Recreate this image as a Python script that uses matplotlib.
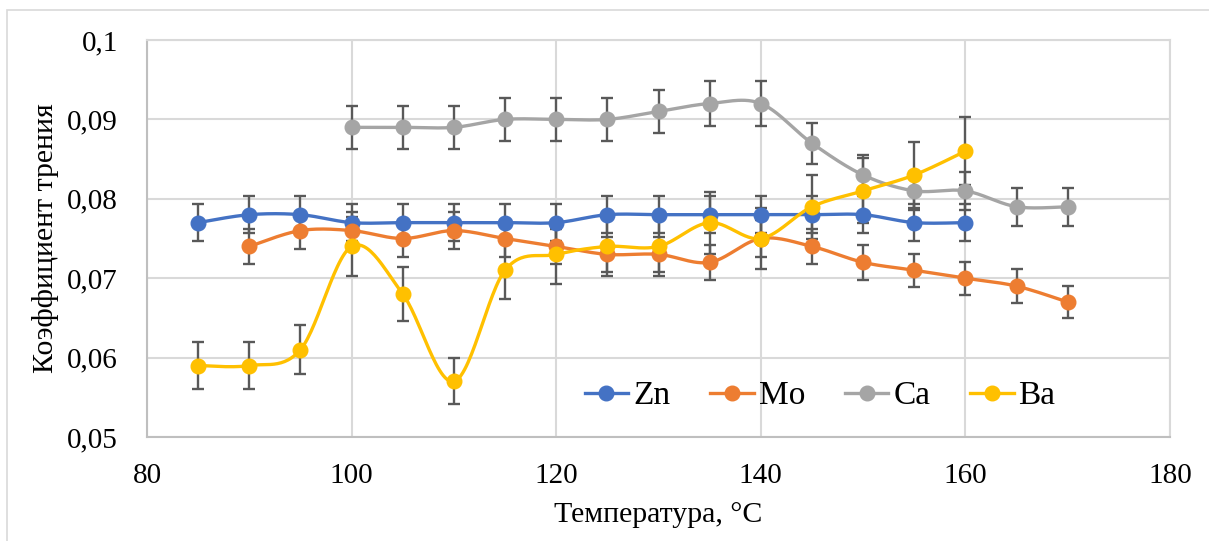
import numpy as np
import matplotlib.pyplot as plt
from matplotlib.patches import Rectangle
from matplotlib.lines import Line2D

# Данные
x_zn = [85, 90, 95, 100, 105, 110, 115, 120, 125, 130, 135, 140, 145, 150, 155, 160]
zn = [0.077, 0.078, 0.078, 0.077, 0.077, 0.077, 0.077, 0.077,
      0.078, 0.078, 0.078, 0.078, 0.078, 0.078, 0.077, 0.077]
zn_err = [0.0023] * 16

x_mo = [90, 95, 100, 105, 110, 115, 120, 125, 130, 135, 140, 145, 150, 155, 160, 165, 170]
mo = [0.074, 0.076, 0.076, 0.075, 0.076, 0.075, 0.074, 0.073, 0.073,
      0.072, 0.075, 0.074, 0.072, 0.071, 0.070, 0.069, 0.067]
mo_err = [0.0022, 0.0023, 0.0023, 0.0023, 0.0023, 0.0023, 0.0022, 0.0022, 0.0022,
          0.0022, 0.0023, 0.0022, 0.0022, 0.0021, 0.0021, 0.0021, 0.0020]

x_ca = [100, 105, 110, 115, 120, 125, 130, 135, 140, 145, 150, 155, 160, 165, 170]
ca = [0.089, 0.089, 0.089, 0.090, 0.090, 0.090, 0.091, 0.092,
      0.092, 0.087, 0.083, 0.081, 0.081, 0.079, 0.079]
ca_err = [0.0027, 0.0027, 0.0027, 0.0027, 0.0027, 0.0027, 0.0027, 0.0028,
          0.0028, 0.0026, 0.0025, 0.0024, 0.0024, 0.0024, 0.0024]

x_ba = [85, 90, 95, 100, 105, 110, 115, 120, 125, 130, 135, 140, 145, 150, 155, 160]
ba = [0.059, 0.059, 0.061, 0.074, 0.068, 0.057, 0.071, 0.073,
      0.074, 0.074, 0.077, 0.075, 0.079, 0.081, 0.083, 0.086]
ba_err = [0.0030, 0.0030, 0.0031, 0.0037, 0.0034, 0.0029, 0.0036, 0.0037,
          0.0037, 0.0037, 0.0039, 0.0038, 0.0040, 0.0041, 0.0042, 0.0043]

labels = ["Zn", "Mo", "Ca", "Ba"]
colors = ["#4472C4", "#ED7D31", "#A5A5A5", "#FFC000"]


# Сглаживание как в Excel (кривые Безье по соседним точкам)
def smooth(xs, ys, n=30):
    p = np.column_stack([xs, ys]).astype(float)
    ext = np.vstack([p[0], p, p[-1]])
    t = np.linspace(0, 1, n)[:, None]
    out = []
    for i in range(len(p) - 1):
        p0, p1, p2, p3 = ext[i], ext[i + 1], ext[i + 2], ext[i + 3]
        b1 = p1 + (p2 - p0) / 6
        b2 = p2 - (p3 - p1) / 6
        seg = ((1 - t) ** 3) * p1 + 3 * ((1 - t) ** 2) * t * b1 + 3 * (1 - t) * t ** 2 * b2 + t ** 3 * p2
        out.append(seg)
    out = np.vstack(out)
    return out[:, 0], out[:, 1]


SERIF = ['Liberation Serif', 'DejaVu Serif']
plt.rcParams['font.family'] = SERIF

fig = plt.figure(figsize=(12.09, 5.41), dpi=100)
ax = fig.add_axes([147 / 1209, 104 / 541, 1023 / 1209, 397 / 541])

# Рамка вокруг диаграммы
fig.patches.append(Rectangle((7 / 1209, -0.05), 1.2, (531 / 541) + 0.05,
                             transform=fig.transFigure, fill=False,
                             edgecolor="#d9d9d9", lw=1.2))

series = [(x_zn, zn, zn_err), (x_mo, mo, mo_err), (x_ca, ca, ca_err), (x_ba, ba, ba_err)]
handles = []
for (xs, ys, err), lab, col in zip(series, labels, colors):
    ax.errorbar(xs, ys, yerr=err, fmt="none", ecolor="#595959", elinewidth=1.7,
                capsize=4.5, capthick=1.7, zorder=3)
    sx, sy = smooth(xs, ys)
    ax.plot(sx, sy, color=col, lw=2.4, zorder=4, solid_capstyle="round")
    ax.plot(xs, ys, "o", color=col, markersize=10.5, zorder=5)
    handles.append(Line2D([], [], color=col, lw=2.4, marker="o", markersize=10.5))

ax.set_xlim(80, 180)
ax.set_ylim(0.05, 0.1)
ax.set_xticks([80, 100, 120, 140, 160, 180])
ax.set_xticklabels(["80", "100", "120", "140", "160", "180"], family=SERIF)
ax.set_yticks([0.05, 0.06, 0.07, 0.08, 0.09, 0.1])
ax.set_yticklabels(["0,05", "0,06", "0,07", "0,08", "0,09", "0,1"], family=SERIF)
ax.tick_params(length=0, labelsize=21, colors="black")
ax.tick_params(axis="x", pad=19)
ax.tick_params(axis="y", pad=21)
ax.grid(True, color="#d9d9d9", lw=1.5, zorder=0)
ax.set_axisbelow(True)
for s in ax.spines.values():
    s.set_color("#d9d9d9")
    s.set_linewidth(1.5)
ax.spines["left"].set_color("#bfbfbf")
ax.spines["bottom"].set_color("#bfbfbf")

ax.set_xlabel("Температура, °С", fontsize=21.5, labelpad=9, family=SERIF)
ax.set_ylabel("Коэффициент трения", fontsize=21.5, labelpad=6, family=SERIF)

ax.legend(handles, labels, loc="center", bbox_to_anchor=(0.658, 0.103), ncol=4,
          frameon=False, handlelength=1.3, handletextpad=0.15,
          columnspacing=1.2, prop={'family': SERIF, 'size': 24})

fig.savefig("out.png", dpi=100)
